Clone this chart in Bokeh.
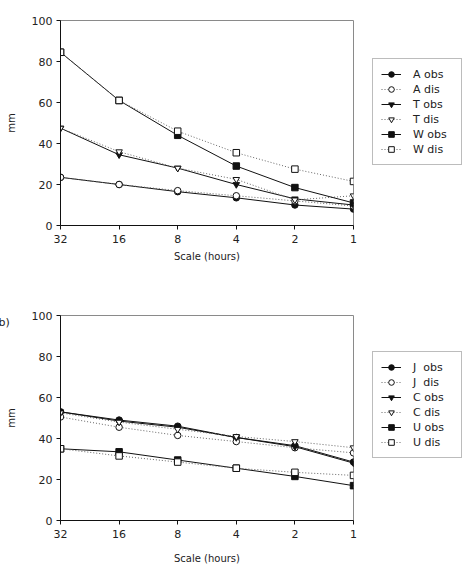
from bokeh.plotting import figure
from bokeh.layouts import column, row
from bokeh.models import Range1d, FixedTicker, Legend, LegendItem, Title
from bokeh.embed import file_html
from bokeh.resources import INLINE

# time scales (hours) along the x axis, largest on the left
scale = [32, 16, 8, 4, 2, 1]
y_ticks = [0, 20, 40, 60, 80, 100]

# panel (a): observed vs. disaggregated values, mm
A_obs = [23.5, 20.0, 16.5, 13.5, 10.0, 8.0]
A_dis = [23.5, 20.0, 17.0, 14.5, 12.0, 9.5]
T_obs = [47.5, 34.5, 28.0, 20.0, 13.0, 10.0]
T_dis = [47.5, 36.0, 28.0, 22.5, 12.5, 14.5]
W_obs = [84.5, 61.0, 44.0, 29.0, 18.5, 11.0]
W_dis = [84.5, 61.0, 46.0, 35.5, 27.5, 21.5]

# panel (b)
J_obs = [53.0, 49.0, 46.0, 40.5, 36.5, 28.5]
J_dis = [50.5, 45.5, 41.5, 38.5, 35.5, 33.0]
C_obs = [53.0, 48.5, 45.5, 40.5, 36.0, 28.0]
C_dis = [52.5, 48.0, 44.5, 41.0, 38.5, 35.5]
U_obs = [35.0, 33.5, 29.5, 25.5, 21.5, 17.0]
U_dis = [35.0, 31.5, 28.5, 25.5, 23.5, 22.0]

FONT = "DejaVu Sans"
TXT = "#222222"
MAIN_W = 372
LEG_W = 466 - MAIN_W


def style_kwargs(filled):
    if filled:
        line = dict(line_color="#111111", line_width=1)
        mark = dict(fill_color="#111111", line_color="#111111")
    else:
        line = dict(line_color="#666666", line_width=1, line_dash="1 2")
        mark = dict(fill_color="white", line_color="#111111")
    return line, mark


def make_panel(series, height, top, bottom, label_standoff):
    p = figure(width=MAIN_W, height=height, x_axis_type="log",
               x_range=Range1d(32, 1), y_range=Range1d(0, 100),
               output_backend="svg", toolbar_location=None,
               min_border_left=60, min_border_right=19,
               min_border_top=top, min_border_bottom=bottom)
    p.background_fill_color = "white"
    p.border_fill_color = "white"
    p.outline_line_color = "#8a8a8a"
    p.outline_line_width = 1
    p.xgrid.visible = False
    p.ygrid.visible = False

    p.xaxis.ticker = FixedTicker(ticks=scale)
    p.xaxis.major_label_overrides = {v: str(v) for v in scale}
    p.yaxis.ticker = FixedTicker(ticks=y_ticks)
    for ax in (p.xaxis, p.yaxis):
        ax.minor_tick_line_color = None
        ax.major_tick_in = 0
        ax.major_tick_out = 4
        ax.axis_line_color = "#111111"
        ax.major_tick_line_color = "#111111"
        ax.major_label_text_font = FONT
        ax.major_label_text_font_size = "11px"
        ax.major_label_text_color = TXT
        ax.axis_label_text_font = FONT
        ax.axis_label_text_font_size = "10px"
        ax.axis_label_text_font_style = "normal"
        ax.axis_label_text_color = TXT
    p.xaxis.axis_label = "Scale (hours)"
    p.xaxis.axis_label_standoff = label_standoff
    p.xaxis.major_label_standoff = 5
    p.yaxis.axis_label = "mm"
    p.yaxis.axis_label_standoff = 12
    p.yaxis.major_label_standoff = 4

    for name, vals, marker, filled in series:
        line, mark = style_kwargs(filled)
        p.line(scale, vals, **line)
        p.scatter(scale, vals, marker=marker, size=6.5, **mark)
    return p


def make_legend(series, height, bottom_offset):
    # a small companion canvas that holds the key for one panel;
    # its ranges keep the series themselves out of view
    f = figure(width=LEG_W, height=height, x_range=Range1d(100, 200),
               y_range=Range1d(100, 200), output_backend="svg",
               toolbar_location=None, x_axis_location=None,
               y_axis_location=None, min_border_left=0,
               min_border_right=0, min_border_top=0, min_border_bottom=0)
    f.grid.visible = False
    f.outline_line_color = None
    f.background_fill_color = "white"
    f.border_fill_color = "white"
    items = []
    for name, vals, marker, filled in series:
        line, mark = style_kwargs(filled)
        ln = f.line(scale, vals, **line)
        mk = f.scatter(scale, vals, marker=marker, size=6.5, **mark)
        items.append(LegendItem(label=name, renderers=[ln, mk]))
    leg = Legend(items=items, location=(0, bottom_offset),
                 orientation="vertical")
    leg.border_line_color = "#7a7a7a"
    leg.border_line_width = 1
    leg.background_fill_color = "white"
    leg.label_text_font = FONT
    leg.label_text_font_size = "11px"
    leg.label_text_color = TXT
    leg.glyph_width = 20
    leg.glyph_height = 14
    leg.label_height = 14
    leg.label_width = 40
    leg.label_standoff = 12
    leg.spacing = 1
    leg.padding = 8
    leg.margin = 0
    f.add_layout(leg)
    return f


top_series = [
    ("A obs", A_obs, "circle", True),
    ("A dis", A_dis, "circle", False),
    ("T obs", T_obs, "inverted_triangle", True),
    ("T dis", T_dis, "inverted_triangle", False),
    ("W obs", W_obs, "square", True),
    ("W dis", W_dis, "square", False),
]
bottom_series = [
    ("J  obs", J_obs, "circle", True),
    ("J  dis", J_dis, "circle", False),
    ("C obs", C_obs, "inverted_triangle", True),
    ("C dis", C_dis, "inverted_triangle", False),
    ("U obs", U_obs, "square", True),
    ("U dis", U_dis, "square", False),
]

p1 = make_panel(top_series, 285, 20, 60, 5)
p2 = make_panel(bottom_series, 285, 30, 50, 12)
p2.add_layout(Title(text="b)", align="left", offset=-62, standoff=-27,
                    text_font=FONT, text_font_size="11px",
                    text_font_style="normal", text_color=TXT), "above")
l1 = make_legend(top_series, 285, 60)
l2 = make_legend(bottom_series, 285, 62)

layout = column(row(p1, l1, spacing=0), row(p2, l2, spacing=0), spacing=0)
open("out.html", "w").write(file_html(layout, INLINE))
